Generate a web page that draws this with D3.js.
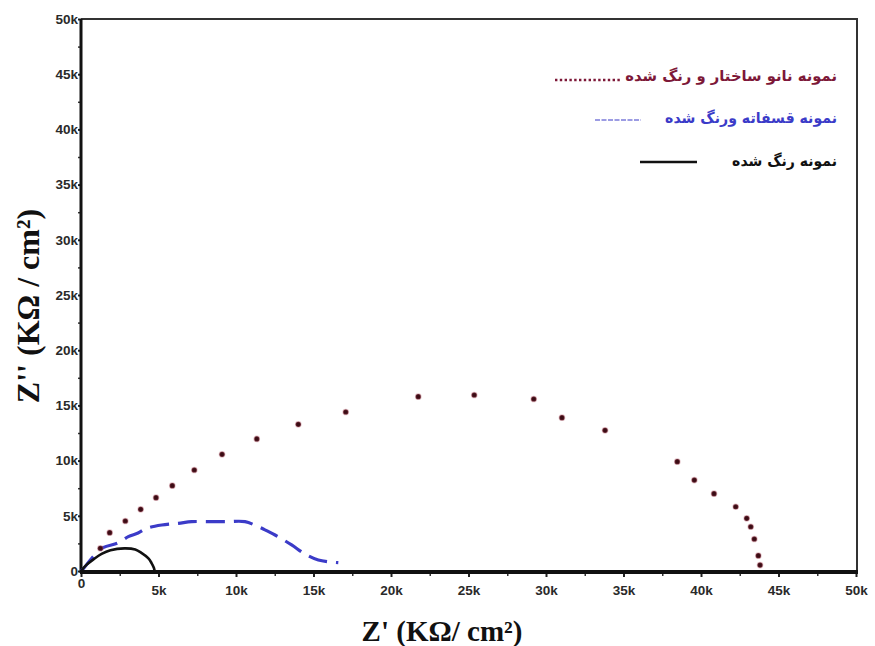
<!DOCTYPE html>
<html><head><meta charset="utf-8">
<script src="https://cdn.jsdelivr.net/npm/d3@7"></script>
<style>
html,body{margin:0;padding:0;background:#fff;}
svg{display:block;}
</style></head>
<body>
<svg id="chart" width="875" height="646"></svg>
<script>
// ---- data (kΩ/cm², values in Ω) ----
const nanoZre = [1250,1850,2860,3850,4840,5890,7310,9100,11340,14020,17080,21760,25370,29210,31030,33810,38470,39570,40840,42240,42950,43210,43440,43700,43810];
const nanoZim = [2060,3470,4530,5590,6640,7730,9150,10570,11960,13290,14400,15790,15940,15580,13890,12740,9900,8240,7000,5820,4770,4010,2900,1390,540];
const phosZre = [0,190,710,1420,2390,3050,3680,4240,5210,6280,7140,8210,9400,10580,11440,11760,12520,13590,14450,15310,16600];
const phosZim = [0,270,1180,2110,2540,3110,3440,3870,4170,4320,4470,4470,4470,4470,4010,3800,3260,2360,1540,1000,750];
const dyeZre = [0,350,800,1330,1900,2800,3500,3920,4350,4560,4700,4750];
const dyeZim = [0,550,1050,1550,1880,2050,1950,1620,1150,700,300,0];
const xMajor = [0,5000,10000,15000,20000,25000,30000,35000,40000,45000,50000];
const yMajor = [0,5000,10000,15000,20000,25000,30000,35000,40000,45000,50000];
const xMinor = [2500,7500,12500,17500,22500,27500,32500,37500,42500,47500];
const yMinor = [2500,7500,12500,17500,22500,27500,32500,37500,42500,47500];
const legendLabels = ["نمونه نانو ساختار و رنگ شده","نمونه قسفاته ورنگ شده","نمونه رنگ شده"];
const legendColors = ["#7d1838","#3b3bc8","#111111"];
const xTitle = "Z' (KΩ/ cm²)";
const yTitle = "Z'' (KΩ / cm²)";

const svg = d3.select("#chart");
const x = d3.scaleLinear().domain([0,50000]).range([81,856]);
const y = d3.scaleLinear().domain([0,50000]).range([571,19]);
const fmt = d => d===0 ? "0" : (d/1000)+"k";

// frame (top + right)
svg.append("path").attr("d",`M${x(0)},${y(50000)}H${x(50000)+1}V${y(0)}`)
  .attr("fill","none").attr("stroke","#333").attr("stroke-width",2);

// x axis
const gx = svg.append("g").attr("transform",`translate(0,${y(0)+1})`)
  .call(d3.axisBottom(x).tickValues(xMajor).tickFormat(fmt).tickSize(5).tickPadding(8));
gx.select(".domain").remove();
gx.selectAll("line").attr("stroke","#222").attr("stroke-width",2);
gx.selectAll("text").attr("font-family","Liberation Sans, Arial, sans-serif").attr("font-weight","bold")
  .attr("font-size",13.5).attr("fill","#2a2a2a")
  .filter(d=>d===0).attr("y",6);
const gxm = svg.append("g").attr("transform",`translate(0,${y(0)+1})`)
  .call(d3.axisBottom(x).tickValues(xMinor).tickFormat("").tickSize(4));
gxm.select(".domain").remove();
gxm.selectAll("line").attr("stroke","#333").attr("stroke-width",1.5);

// y axis
const gy = svg.append("g").attr("transform",`translate(${x(0)},0)`)
  .call(d3.axisLeft(y).tickValues(yMajor).tickFormat(fmt).tickSize(3).tickPadding(0));
gy.select(".domain").remove();
gy.selectAll("line").attr("stroke","#222").attr("stroke-width",2);
gy.selectAll("text").attr("font-family","Liberation Sans, Arial, sans-serif").attr("font-weight","bold")
  .attr("font-size",13.5).attr("fill","#2a2a2a");
const gym = svg.append("g").attr("transform",`translate(${x(0)},0)`)
  .call(d3.axisLeft(y).tickValues(yMinor).tickFormat("").tickSize(3));
gym.select(".domain").remove();
gym.selectAll("line").attr("stroke","#333").attr("stroke-width",1.5);

// axis lines
svg.append("line").attr("x1",x(0)).attr("x2",x(0)).attr("y1",y(50000)).attr("y2",y(0)+2)
  .attr("stroke","#111").attr("stroke-width",3);

// series: blue dashed
const line = d3.line().x(d=>x(d[0])).y(d=>y(d[1])).curve(d3.curveCatmullRom);
svg.append("path").datum(d3.zip(phosZre,phosZim)).attr("d",line)
  .attr("fill","none").attr("stroke",legendColors[1]).attr("stroke-width",3.2)
  .attr("stroke-dasharray","19,9");
// black solid
svg.append("path").datum(d3.zip(dyeZre,dyeZim)).attr("d",line)
  .attr("fill","none").attr("stroke","#111").attr("stroke-width",2.6);
// x axis thick line drawn over
svg.append("line").attr("x1",x(0)-1).attr("x2",x(50000)+2).attr("y1",y(0)+1).attr("y2",y(0)+1)
  .attr("stroke","#111").attr("stroke-width",4);
// nano dots
svg.append("g").selectAll("circle").data(d3.zip(nanoZre,nanoZim)).join("circle")
  .attr("cx",d=>x(d[0])).attr("cy",d=>y(d[1])).attr("r",2.6)
  .attr("fill","#3a0c14").attr("stroke","#b05060").attr("stroke-opacity",0.35).attr("stroke-width",1.5);

// legend
const lg = svg.append("g");
const legY = [81,123,166];
const legTargetW = [212,172,105];
legendLabels.forEach((t,i)=>{
  const g = lg.append("g").attr("transform",`translate(837,${legY[i]})`);
  const tx = g.append("text").attr("x",0).attr("y",0).attr("text-anchor","end")
    .attr("font-family","DejaVu Sans, sans-serif").attr("font-weight","bold")
    .attr("font-size",15).attr("fill",legendColors[i]).text(t);
  const w = tx.node().getComputedTextLength();
  if (w>0) g.attr("transform",`translate(837,${legY[i]}) scale(${legTargetW[i]/w},1)`);
});
lg.append("line").attr("x1",555).attr("x2",622).attr("y1",80).attr("y2",80)
  .attr("stroke",legendColors[0]).attr("stroke-width",2.6).attr("stroke-dasharray","2.4,2.4");
lg.append("line").attr("x1",595).attr("x2",641).attr("y1",120).attr("y2",120)
  .attr("stroke",legendColors[1]).attr("stroke-width",1.2).attr("stroke-dasharray","5,1.5");
lg.append("line").attr("x1",640).attr("x2",697).attr("y1",162).attr("y2",162)
  .attr("stroke","#111").attr("stroke-width",2.6);

// axis titles
svg.append("text").attr("x",442).attr("y",641).attr("text-anchor","middle")
  .attr("font-family","Liberation Serif, Times New Roman, serif").attr("font-weight","bold")
  .attr("font-size",29).attr("fill","#111").text(xTitle);
svg.append("text").attr("transform","translate(39,306) rotate(-90)").attr("text-anchor","middle")
  .attr("font-family","Liberation Serif, Times New Roman, serif").attr("font-weight","bold")
  .attr("font-size",32).attr("fill","#111").text(yTitle);
</script>
</body></html>
